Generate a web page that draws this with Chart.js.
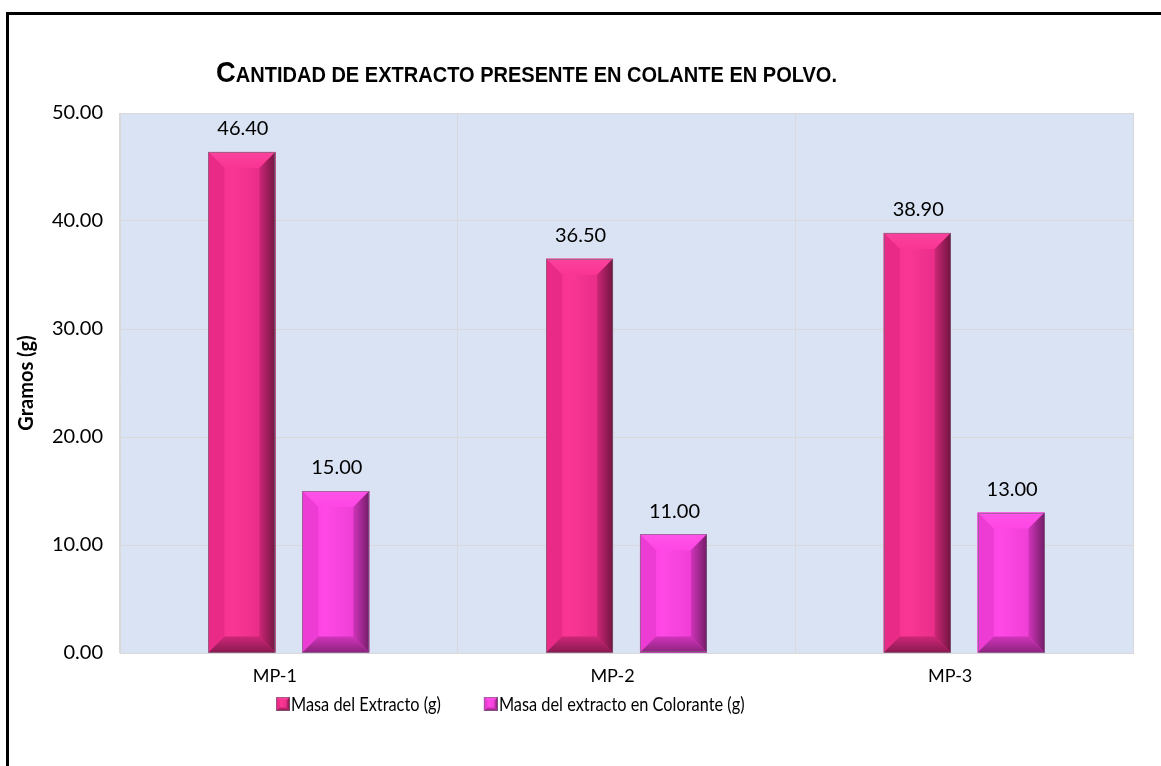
<!DOCTYPE html>
<html>
<head>
<meta charset="utf-8">
<script src="https://cdn.jsdelivr.net/npm/chart.js@4.4.1/dist/chart.umd.min.js"></script>
<style>
  html, body { margin: 0; padding: 0; background: #fff; overflow: hidden; }
  #wrap { position: relative; width: 1161px; height: 766px; }
  #frame { position: absolute; left: 6px; top: 12px; width: 1200px; height: 800px;
           border-left: 3px solid #000; border-top: 3px solid #000; box-sizing: border-box;
           pointer-events: none; }
  canvas { position: absolute; left: 0; top: 0; }
</style>
</head>
<body>
<div id="wrap">
  <canvas id="c" width="1161" height="766"></canvas>
  <div id="frame"></div>
</div>
<script>
// Data
const categories = ['MP-1', 'MP-2', 'MP-3'];
const masaExtracto = [46.40, 36.50, 38.90];
const masaColorante = [15.00, 11.00, 13.00];
const seriesNames = ['Masa del Extracto (g)', 'Masa del extracto en Colorante (g)'];
const yTicks = [0, 10, 20, 30, 40, 50];
const chartTitle = 'CANTIDAD DE EXTRACTO PRESENTE EN COLANTE EN POLVO.';
const yAxisTitle = 'Gramos (g)';

// Styling
const seriesColors = [[250, 46, 145], [255, 64, 228]];
const plotBg = '#DAE3F3';
const gridColor = '#D9D9D9';
const textFont = 'Lato';

const rgb = (c, f = 1) => `rgb(${Math.round(c[0] * f)},${Math.round(c[1] * f)},${Math.round(c[2] * f)})`;
const lighten = (c, t) => `rgb(${Math.round(c[0] + (255 - c[0]) * t)},${Math.round(c[1] + (255 - c[1]) * t)},${Math.round(c[2] + (255 - c[2]) * t)})`;

// Draws a bevelled box (lighter top, darker right/bottom edges)
function drawBevel(ctx, l, t, r, b, col, size) {
  const bv = Math.max(1, Math.min(size, (r - l) / 4, (b - t) / 4));
  ctx.save();
  let g = ctx.createLinearGradient(l, 0, r, 0);
  g.addColorStop(0, rgb(col, 0.97)); g.addColorStop(0.35, lighten(col, 0.04)); g.addColorStop(1, rgb(col, 0.9));
  ctx.fillStyle = g;
  ctx.fillRect(l, t, r - l, b - t);
  // top
  ctx.beginPath();
  ctx.moveTo(l, t); ctx.lineTo(r, t); ctx.lineTo(r - bv, t + bv); ctx.lineTo(l + bv, t + bv); ctx.closePath();
  g = ctx.createLinearGradient(0, t, 0, t + bv);
  g.addColorStop(0, lighten(col, 0.1)); g.addColorStop(1, lighten(col, 0.03));
  ctx.fillStyle = g; ctx.fill();
  // left
  ctx.beginPath();
  ctx.moveTo(l, t); ctx.lineTo(l + bv, t + bv); ctx.lineTo(l + bv, b - bv); ctx.lineTo(l, b); ctx.closePath();
  ctx.fillStyle = rgb(col, 0.93); ctx.fill();
  // right
  g = ctx.createLinearGradient(r - bv, 0, r, 0);
  g.addColorStop(0, rgb(col, 0.82)); g.addColorStop(1, rgb(col, 0.45));
  ctx.beginPath();
  ctx.moveTo(r, t); ctx.lineTo(r, b); ctx.lineTo(r - bv, b - bv); ctx.lineTo(r - bv, t + bv); ctx.closePath();
  ctx.fillStyle = g; ctx.fill();
  // bottom
  g = ctx.createLinearGradient(0, b - bv, 0, b);
  g.addColorStop(0, rgb(col, 0.82)); g.addColorStop(1, rgb(col, 0.55));
  ctx.beginPath();
  ctx.moveTo(l, b); ctx.lineTo(r, b); ctx.lineTo(r - bv, b - bv); ctx.lineTo(l + bv, b - bv); ctx.closePath();
  ctx.fillStyle = g; ctx.fill();
  // outline
  ctx.strokeStyle = 'rgba(110,110,120,0.6)';
  ctx.lineWidth = 1;
  ctx.strokeRect(Math.round(l) + 0.5, Math.round(t) + 0.5, Math.round(r - l) - 1, Math.round(b - t) - 1);
  ctx.restore();
}

const plotBackground = {
  id: 'plotBackground',
  beforeDraw(chart) {
    const { ctx, chartArea: a } = chart;
    ctx.save();
    ctx.fillStyle = plotBg;
    ctx.fillRect(a.left, a.top, a.right - a.left, a.bottom - a.top);
    ctx.restore();
  }
};

const bevelBars = {
  id: 'bevelBars',
  afterDatasetsDraw(chart) {
    const ctx = chart.ctx;
    chart.data.datasets.forEach((ds, i) => {
      chart.getDatasetMeta(i).data.forEach(el => {
        const { x, y, base, width } = el.getProps(['x', 'y', 'base', 'width'], true);
        drawBevel(ctx, x - width / 2, y, x + width / 2, base, seriesColors[i], 16);
      });
    });
  }
};

const valueLabels = {
  id: 'valueLabels',
  afterDatasetsDraw(chart) {
    const ctx = chart.ctx;
    ctx.save();
    ctx.font = `20px ${textFont}`;
    ctx.fillStyle = '#000';
    ctx.textAlign = 'center';
    ctx.textBaseline = 'middle';
    chart.data.datasets.forEach((ds, i) => {
      chart.getDatasetMeta(i).data.forEach((el, j) => {
        const { x, y } = el.getProps(['x', 'y'], true);
        ctx.fillText(ds.data[j].toFixed(2), x + 1, y - 23);
      });
    });
    ctx.restore();
  }
};

// Legend row under the category axis: bevelled swatch + series name (slightly condensed text)
const legendRow = {
  id: 'legendRow',
  afterDraw(chart) {
    const ctx = chart.ctx;
    const cy = 704, sw = 14, squeeze = 0.86;
    let x = 276;
    ctx.save();
    ctx.font = `19px ${textFont}`;
    ctx.textBaseline = 'middle';
    ctx.textAlign = 'left';
    chart.data.datasets.forEach((ds, i) => {
      drawBevel(ctx, x, cy - sw / 2, x + sw, cy + sw / 2, seriesColors[i], 4);
      x += sw + 1;
      ctx.save();
      ctx.translate(x, cy + 1);
      ctx.scale(squeeze, 1);
      ctx.fillStyle = '#000';
      ctx.fillText(ds.label, 0, 0);
      ctx.restore();
      x += ctx.measureText(ds.label).width * squeeze + 43;
    });
    ctx.restore();
  }
};

// Small-caps style heading: first letter large, the rest in smaller capitals
const smallCapsTitle = {
  id: 'smallCapsTitle',
  afterDraw(chart) {
    const ctx = chart.ctx;
    const left = 216, right = 837, baseline = 82;
    const first = chartTitle[0], rest = chartTitle.slice(1);
    const bigFont = 'bold 30px "Liberation Sans"', smallFont = 'bold 22px "Liberation Sans"';
    ctx.save();
    ctx.font = bigFont; const w1 = ctx.measureText(first).width;
    ctx.font = smallFont; const w2 = ctx.measureText(rest).width;
    const sx = (right - left) / (w1 + w2);
    ctx.translate(left, baseline);
    ctx.scale(sx, 1);
    ctx.fillStyle = '#000';
    ctx.textBaseline = 'alphabetic';
    ctx.textAlign = 'left';
    ctx.font = bigFont; ctx.fillText(first, 0, 0);
    ctx.font = smallFont; ctx.fillText(rest, w1, 0);
    ctx.restore();
  }
};

new Chart(document.getElementById('c'), {
  type: 'bar',
  data: {
    labels: categories,
    datasets: [
      { label: seriesNames[0], data: masaExtracto, backgroundColor: rgb(seriesColors[0]),
        borderWidth: 0, categoryPercentage: 0.556, barPercentage: 0.713 },
      { label: seriesNames[1], data: masaColorante, backgroundColor: rgb(seriesColors[1]),
        borderWidth: 0, categoryPercentage: 0.556, barPercentage: 0.713 }
    ]
  },
  options: {
    responsive: false,
    animation: false,
    devicePixelRatio: 1,
    layout: { padding: { top: 113, left: 10, right: 28, bottom: 81 } },
    scales: {
      x: {
        offset: true,
        grid: { color: gridColor, drawTicks: false, offset: true },
        border: { color: gridColor },
        ticks: { padding: 12, labelOffset: -14, color: '#000', font: { family: textFont, size: 18 } },
        afterFit(s) { s.height = 32; }
      },
      y: {
        min: 0, max: 50,
        afterBuildTicks(s) { s.ticks = yTicks.map(v => ({ value: v })); },
        ticks: { padding: 17, color: '#000', font: { family: textFont, size: 20 },
                 callback: v => Number(v).toFixed(2) },
        grid: { color: gridColor, drawTicks: false },
        border: { display: true, color: gridColor },
        title: { display: true, text: yAxisTitle, color: '#000',
                 font: { family: textFont, size: 20, weight: 'bold' }, padding: { top: 5, bottom: 0 } },
        afterFit(s) { s.width = 110; }
      }
    },
    plugins: {
      legend: { display: false },
      tooltip: { enabled: false }
    }
  },
  plugins: [plotBackground, bevelBars, valueLabels, legendRow, smallCapsTitle]
});
</script>
</body>
</html>
